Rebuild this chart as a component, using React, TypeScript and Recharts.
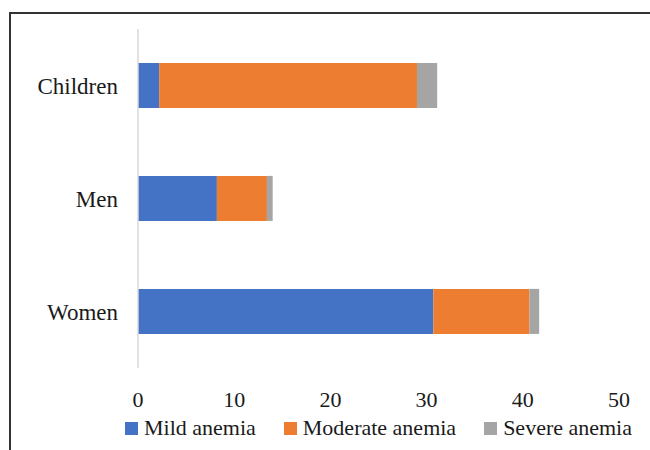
import { Bar, BarChart, Legend, XAxis, YAxis } from "recharts";

const groups = ["Children", "Men", "Women"];
const mild = [2.2, 8.2, 30.7];
const moderate = [26.8, 5.2, 10.0];
const severe = [2.1, 0.6, 1.0];
const xTicks = [0, 10, 20, 30, 40, 50];

const series = [
  { key: "Mild anemia", values: mild, color: "#4472C4" },
  { key: "Moderate anemia", values: moderate, color: "#ED7D31" },
  { key: "Severe anemia", values: severe, color: "#A5A5A5" },
];

const data = groups.map((g, i) => {
  const row: Record<string, string | number> = { group: g };
  series.forEach((s) => (row[s.key] = s.values[i]));
  return row;
});

const font = "'Liberation Serif', 'Times New Roman', serif";
const textColor = "#1a1a1a";

function LegendContent() {
  return (
    <div
      style={{
        display: "flex",
        justifyContent: "center",
        paddingLeft: 138,
        paddingRight: 31,
        fontFamily: font,
        fontSize: 22,
        lineHeight: "26px",
        color: textColor,
        whiteSpace: "nowrap",
      }}
    >
      {series.map((s, i) => (
        <div key={s.key} style={{ display: "flex", alignItems: "center", marginLeft: i === 0 ? 0 : 28 }}>
          <span style={{ display: "inline-block", width: 13, height: 13, background: s.color, marginRight: 6 }} />
          <span>{s.key}</span>
        </div>
      ))}
    </div>
  );
}

export default function App() {
  return (
    <div style={{ position: "absolute", left: 0, top: 0, width: 650, height: 450, overflow: "hidden", background: "#fff" }}>
      <div
        style={{
          position: "absolute",
          left: 9,
          top: 12,
          width: 700,
          height: 500,
          borderTop: "2px solid #333",
          borderLeft: "2px solid #333",
        }}
      />
      <BarChart
        layout="vertical"
        width={650}
        height={450}
        data={data}
        margin={{ top: 29, right: 31, bottom: 0, left: 0 }}
        barCategoryGap="30%"
        style={{ position: "absolute", left: 0, top: 0 }}
      >
        <XAxis
          type="number"
          domain={[0, 50]}
          ticks={xTicks}
          axisLine={false}
          tickLine={false}
          tickSize={0}
          tickMargin={23}
          height={56}
          tick={{ fontFamily: font, fontSize: 22, fill: textColor }}
        />
        <YAxis
          type="category"
          dataKey="group"
          width={138}
          axisLine={{ stroke: "#d9d9d9", strokeWidth: 1.5 }}
          tickLine={false}
          tickSize={0}
          tickMargin={20}
          tick={{ fontFamily: font, fontSize: 23, fill: textColor }}
        />
        <Legend
          content={<LegendContent />}
          wrapperStyle={{ position: "absolute", top: 415, left: 0, width: 650 }}
        />
        {series.map((s) => (
          <Bar key={s.key} dataKey={s.key} stackId="a" fill={s.color} isAnimationActive={false} />
        ))}
      </BarChart>
    </div>
  );
}
